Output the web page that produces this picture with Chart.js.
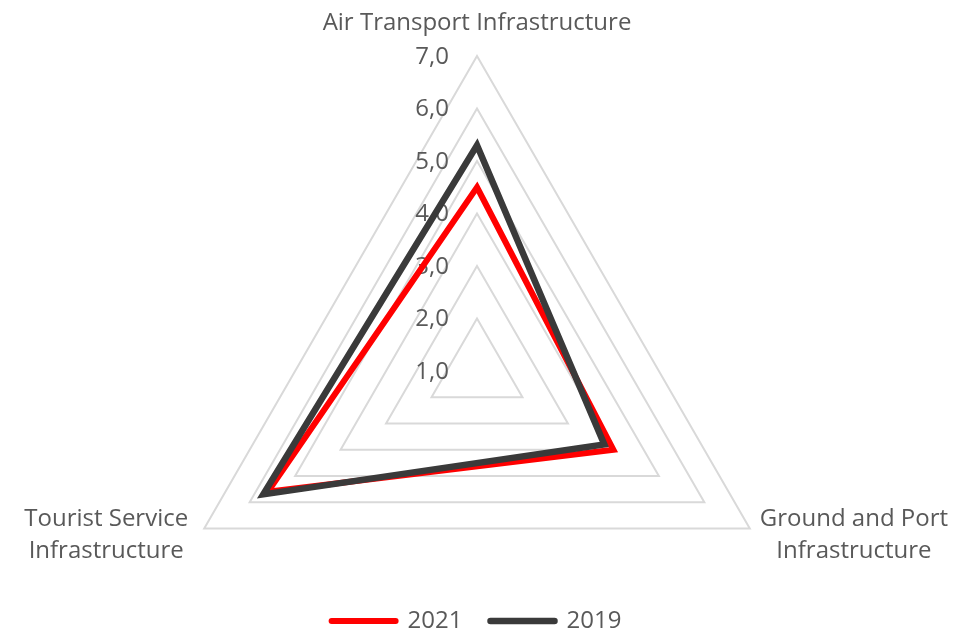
<!DOCTYPE html>
<html>
<head>
<meta charset="utf-8">
<script src="https://cdn.jsdelivr.net/npm/chart.js@4.4.0/dist/chart.umd.min.js"></script>
<style>
  html, body { margin: 0; padding: 0; background: #fff; }
  #wrap { width: 953px; height: 633px; }
</style>
</head>
<body>
<div id="wrap"><canvas id="radar"></canvas></div>
<script>
// Data
const categories = [
    ['Air Transport Infrastructure'],
    ['Ground and Port', 'Infrastructure'],
    ['Tourist Service', 'Infrastructure']
];
const values2021 = [4.5, 4.0, 5.6];
const values2019 = [5.3, 3.8, 5.7];
const tickValues = [1, 2, 3, 4, 5, 6, 7];
const tickLabels = ['1,0', '2,0', '3,0', '4,0', '5,0', '6,0', '7,0'];

const textColor = '#595959';
const fontFamily = '"Open Sans", sans-serif';
Chart.defaults.font.family = fontFamily;
Chart.defaults.color = textColor;

// Tick labels sit left of the vertical axis, under the lines
const tickLabelPlugin = {
    id: 'tickLabels',
    beforeDatasetsDraw(chart) {
        const scale = chart.scales.r;
        const ctx = chart.ctx;
        ctx.save();
        ctx.font = '24px ' + fontFamily;
        ctx.fillStyle = textColor;
        ctx.textAlign = 'right';
        ctx.textBaseline = 'middle';
        tickValues.forEach((v, i) => {
            const d = scale.getDistanceFromCenterForValue(v);
            ctx.fillText(tickLabels[i], scale.xCenter - 28, scale.yCenter - d + 1);
        });
        ctx.restore();
    }
};

// Category labels centred on each vertex
const pointLabelPlugin = {
    id: 'catLabels',
    afterDraw(chart) {
        const scale = chart.scales.r;
        const ctx = chart.ctx;
        const lineH = 32;
        ctx.save();
        ctx.font = '24px ' + fontFamily;
        ctx.fillStyle = textColor;
        ctx.textAlign = 'center';
        ctx.textBaseline = 'middle';
        categories.forEach((lines, i) => {
            const p = scale.getPointPosition(i, scale.drawingArea);
            const maxW = Math.max(...lines.map(l => ctx.measureText(l).width));
            let cx = p.x, cy = p.y;
            if (i === 0) {
                cy = p.y - 33;
            } else {
                const right = p.x > scale.xCenter;
                cx = right ? p.x + 10 + maxW / 2 : p.x - 16 - maxW / 2;
                cy = p.y + 7;
            }
            const top = cy - (lines.length - 1) * lineH / 2;
            lines.forEach((l, j) => ctx.fillText(l, cx, top + j * lineH));
        });
        ctx.restore();
    }
};

new Chart(document.getElementById('radar'), {
    type: 'radar',
    data: {
        labels: categories,
        datasets: [{
            label: '2021',
            data: values2021,
            borderColor: '#FF0000',
            backgroundColor: '#FF0000',
            borderWidth: 6,
            pointRadius: 0,
            pointHoverRadius: 0,
            fill: false,
            clip: false,
            order: 1
        }, {
            label: '2019',
            data: values2019,
            borderColor: '#3A3A3A',
            backgroundColor: '#3A3A3A',
            borderWidth: 6.5,
            pointRadius: 0,
            pointHoverRadius: 0,
            fill: false,
            clip: false,
            order: 0
        }]
    },
    options: {
        responsive: true,
        maintainAspectRatio: false,
        animation: false,
        elements: { line: { tension: 0, borderJoinStyle: 'miter' } },
        plugins: {
            tooltip: { enabled: false },
            legend: {
                position: 'bottom',
                maxHeight: 52,
                labels: {
                    usePointStyle: true,
                    pointStyle: 'line',
                    pointStyleWidth: 64,
                    boxHeight: 24,
                    padding: 28,
                    font: { size: 24 },
                    color: textColor,
                    sort: (a, b) => a.datasetIndex - b.datasetIndex,
                    generateLabels(chart) {
                        const items = Chart.defaults.plugins.legend.labels.generateLabels(chart);
                        items.forEach(it => { it.lineCap = 'round'; });
                        return items;
                    }
                }
            }
        },
        scales: {
            r: {
                min: 1,
                max: 7,
                ticks: { stepSize: 1, display: false },
                angleLines: { display: false },
                grid: { color: '#D9D9D9', lineWidth: 2 },
                pointLabels: { display: false },
                afterFit(scale) {
                    scale.xCenter = 477;
                    scale.yCenter = 371;
                    scale.drawingArea = 315;
                }
            }
        }
    },
    plugins: [tickLabelPlugin, pointLabelPlugin]
});
</script>
</body>
</html>
